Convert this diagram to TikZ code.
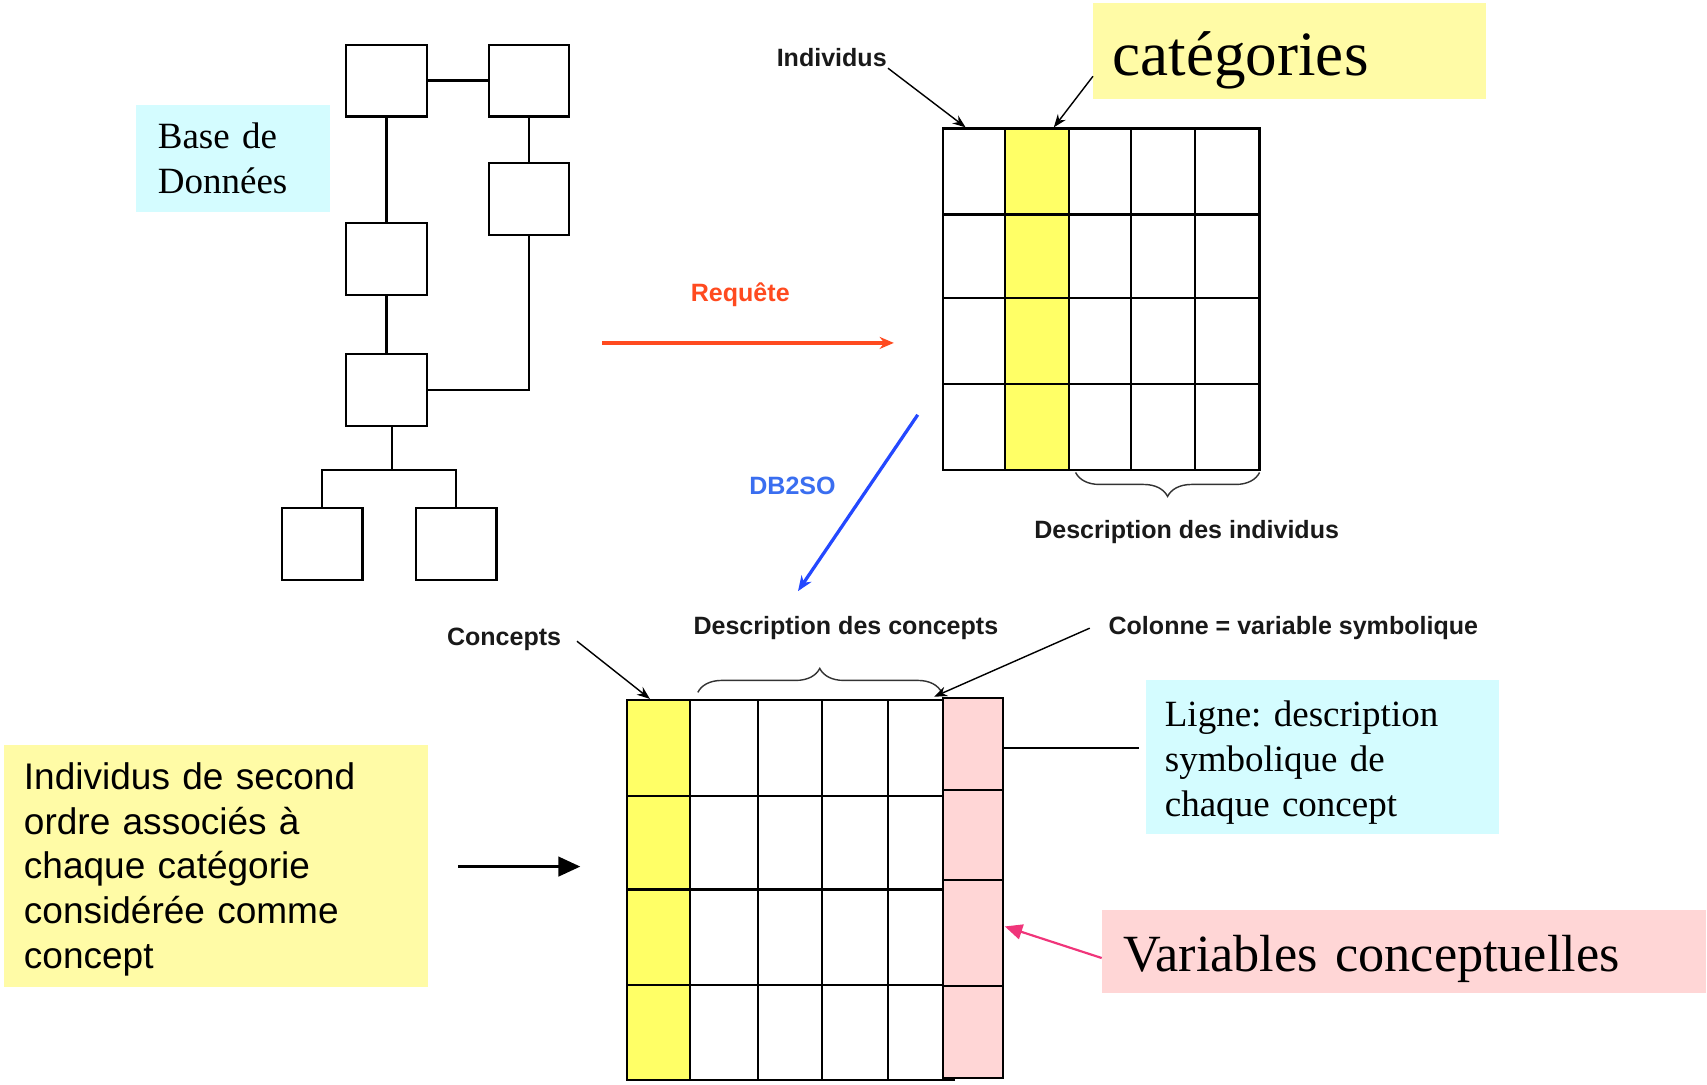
\documentclass[tikz,border=0pt]{standalone}
\usepackage{fontspec}
\setmainfont{Liberation Serif}
\setsansfont{Liberation Sans}
\usetikzlibrary{positioning,arrows.meta,decorations.pathreplacing}
\frenchspacing

\definecolor{notecyan}{HTML}{D4FCFF}
\definecolor{noteyellow}{HTML}{FFFBA6}
\definecolor{notepink}{HTML}{FFD6D6}
\definecolor{cellyellow}{HTML}{FFFF66}
\definecolor{reqred}{HTML}{FF4A1F}
\definecolor{dbblue}{HTML}{2448FF}
\definecolor{dblabel}{HTML}{3A6EF0}
\definecolor{varpink}{HTML}{F0357A}

\begin{document}
\begin{tikzpicture}
  [x=1pt, y=-1pt,
   dbbox/.style={rectangle, draw, line width=2pt, minimum width=74pt, minimum height=66pt, inner sep=0pt},
   gridline/.style={line width=2pt},
   lbl/.style={font=\fontsize{23}{26}\selectfont\sffamily\bfseries, inner sep=1pt, text=black!90},
   notebox/.style={rectangle, inner sep=0pt},
   notetext/.style={align=left, inner sep=0pt},
   ptr/.style={line width=1.3pt, -{Stealth[length=12pt, width=9pt]}},
   brc/.style={decorate, decoration={brace, amplitude=22pt}, line width=1.3pt, black!80}]
  \useasboundingbox (0,0) rectangle (1568,996);

  % Database schema: seven linked tables
  \node[dbbox] (a) at (355,74)  {};
  \node[dbbox] (b) at (486,74)  {};
  \node[dbbox] (c) at (486,183) {};
  \node[dbbox] (d) at (355,238) {};
  \node[dbbox] (e) at (355,358) {};
  \node[dbbox] (f) at (296,500) {};
  \node[dbbox] (g) at (419,500) {};
  \coordinate (fork) at (360,432);
  \draw[gridline] (a)--(b) (a)--(d) (d)--(e) (b)--(c);
  \draw[gridline] (c.south) |- (e.east);
  \draw[gridline] ([xshift=5pt]e.south) -- (fork);
  \draw[gridline] (f.north) |- (fork) -| (g.north);
  \node[notebox, fill=notecyan, minimum width=178pt, minimum height=99pt] (base) at (214,145.5) {};
  \node[notetext, text width=138pt, font=\fontsize{34}{41}\selectfont] (basetext) at (base) {Base de\\Données};

  % Query arrow
  \coordinate (reqs) at (553,315);
  \coordinate (reqe) at (821,315);
  \draw[reqred, line width=3pt, -{Stealth[length=13pt, width=11pt]}] (reqs) -- (reqe);
  \node[lbl, text=reqred] (req) at (680,271) {Requête};

  % Table of individuals
  \fill[cellyellow] (923,118) rectangle (982,432);
  \draw[gridline] (866,118) rectangle (1157,432);
  \draw[gridline] (923,118) -- (923,432) (982,118) -- (982,432)
    (1039,118) -- (1039,432) (1098,118) -- (1098,432);
  \draw[gridline] (866,197) -- (1157,197) (866,274) -- (1157,274) (866,353) -- (1157,353);
  \draw[brc] (1157,434) -- (988,434);
  \node[lbl] (descind) at (1090,489) {Description des individus};

  \node[lbl] (indiv) at (764,53) {Individus};
  \coordinate (indivtip) at (887,117);
  \draw[ptr] (indiv.south east) -- (indivtip);
  \node[notebox, fill=noteyellow, minimum width=361pt, minimum height=88pt] (cat) at (1184.5,47) {};
  \node[notetext, text width=325pt, font=\fontsize{58}{60}\selectfont, yshift=-8pt] (cattext) at (cat) {catégories};
  \coordinate (cattail) at (1004,70);
  \coordinate (cattip) at (968,117);
  \draw[ptr] (cattail) -- (cattip);

  % DB2SO arrow
  \coordinate (dbs) at (843,381);
  \coordinate (dbe) at (733,543);
  \draw[dbblue, line width=3pt, -{Stealth[length=14pt, width=11pt]}] (dbs) -- (dbe);
  \node[lbl, text=dblabel] (db2so) at (728,446) {DB2SO};

  % Symbolic table of concepts
  \fill[cellyellow] (576,643) rectangle (634,992);
  \fill[notepink] (866,641) rectangle (921,990);
  \draw[gridline] (576,643) rectangle (866,992);
  \draw[gridline] (866,992) -- (877,992);
  \draw[gridline] (634,643) -- (634,992) (696,643) -- (696,992)
    (755,643) -- (755,992) (816,643) -- (816,992);
  \draw[gridline] (576,731) -- (866,731) (576,817) -- (866,817) (576,905) -- (866,905);
  \draw[gridline] (866,641) rectangle (921,990);
  \draw[gridline] (866,726) -- (921,726) (866,808) -- (921,808) (866,906) -- (921,906);
  \draw[brc] (641,636) -- (865,636);
  \node[lbl] (desccon) at (777,577) {Description des concepts};

  \node[lbl] (concepts) at (463,587) {Concepts};
  \coordinate (conctail) at (530,589);
  \coordinate (conctip) at (597,642);
  \draw[ptr] (conctail) -- (conctip);
  \node[lbl] (colonne) at (1188,577) {Colonne = variable symbolique};
  \coordinate (coltail) at (1001,577);
  \coordinate (coltip) at (858,640);
  \draw[ptr] (coltail) -- (coltip);

  % Notes around the symbolic table
  \node[notebox, fill=noteyellow, minimum width=389pt, minimum height=223pt] (second) at (198.5,795.5) {};
  \node[notetext, text width=353pt, font=\fontsize{34}{41}\selectfont\sffamily, yshift=-3pt] (secondtext) at (second)
        {Individus de second\\ordre associés à\\chaque catégorie\\considérée comme\\concept};
  \coordinate (secs) at (421,796);
  \coordinate (sece) at (533,796);
  \draw[line width=2pt, -{Triangle[length=20pt, width=18pt]}] (secs) -- (sece);

  \node[notebox, fill=notecyan, minimum width=324pt, minimum height=141pt] (ligne) at (1215,695.5) {};
  \node[notetext, text width=290pt, font=\fontsize{34}{41}\selectfont, yshift=-5pt] (lignetext) at (ligne)
        {Ligne: description\\symbolique de\\chaque concept};
  \coordinate (ligtail) at (921,687);
  \draw[line width=2pt, shorten >=7pt] (ligtail) -- (ligne.west |- ligtail);

  \node[notebox, fill=notepink, minimum width=555pt, minimum height=76pt] (varconc) at (1289.5,874) {};
  \node[notetext, text width=515pt, font=\fontsize{48}{50}\selectfont, yshift=-7pt] (varconctext) at (varconc)
        {Variables conceptuelles};
  \coordinate (vartail) at (1012,880);
  \coordinate (vartip) at (923,851);
  \draw[varpink, line width=2pt, -{Triangle[length=16pt, width=14pt]}] (vartail) -- (vartip);
\end{tikzpicture}
\end{document}
